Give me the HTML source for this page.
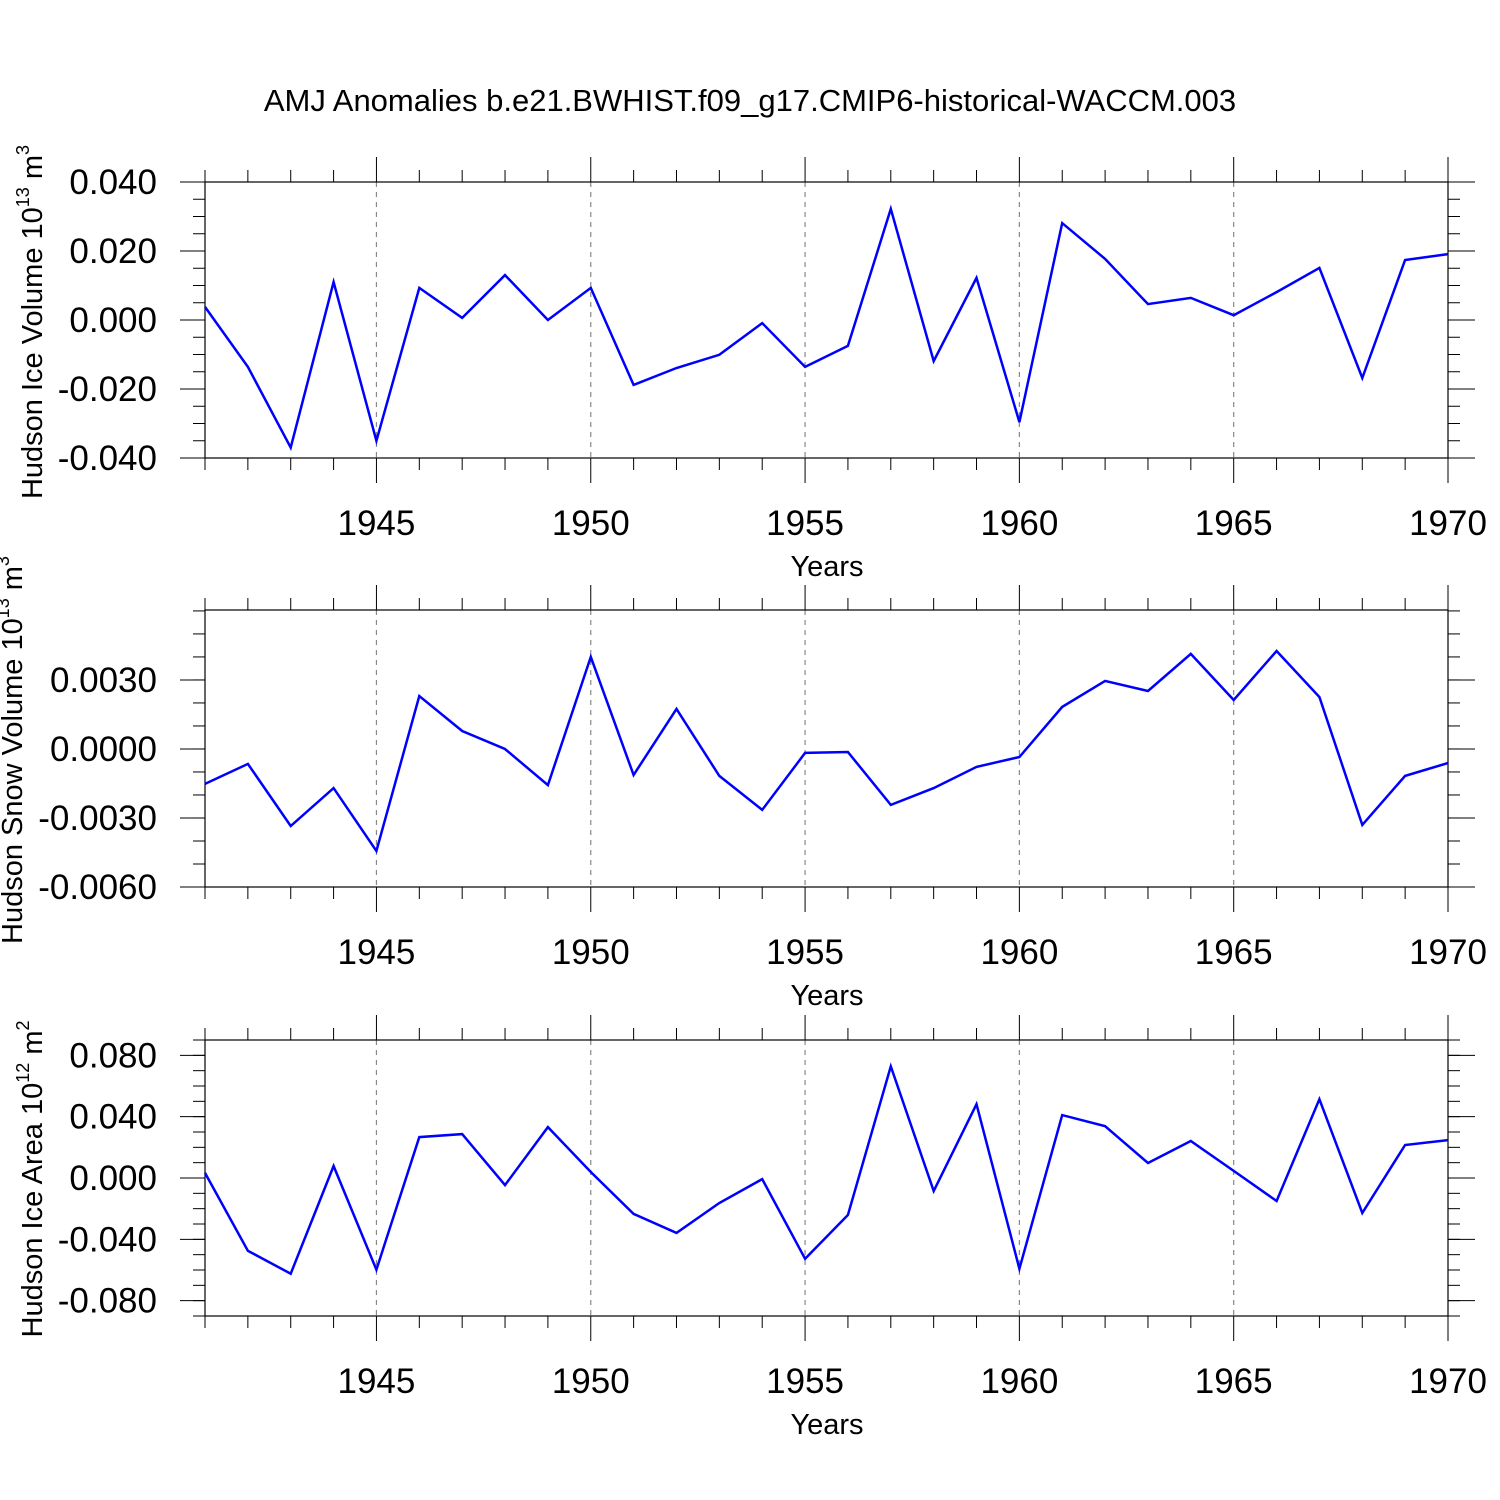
<!DOCTYPE html>
<html><head><meta charset="utf-8"><style>
html,body{margin:0;padding:0;background:#fff}
svg{display:block;font-family:"Liberation Sans",sans-serif}
</style></head><body>
<svg id="chart" width="1500" height="1500" viewBox="0 0 1500 1500">
<text x="750" y="111" font-size="31" text-anchor="middle">AMJ Anomalies b.e21.BWHIST.f09_g17.CMIP6-historical-WACCM.003</text>
</svg>
<script>
const years = [1941,1942,1943,1944,1945,1946,1947,1948,1949,1950,1951,1952,1953,1954,1955,1956,1957,1958,1959,1960,1961,1962,1963,1964,1965,1966,1967,1968,1969,1970];
const iceVolume = [0.0038,-0.0136,-0.037,0.011,-0.035,0.0093,0.0006,0.013,0.0,0.0093,-0.0188,-0.0139,-0.0101,-0.0009,-0.0136,-0.0075,0.0322,-0.0119,0.0122,-0.0296,0.0281,0.0177,0.0046,0.0064,0.0014,0.0081,0.0151,-0.0168,0.0174,0.0191];
const snowVolume = [-0.00152,-0.00065,-0.00335,-0.0017,-0.00443,0.0023,0.00078,0.0,-0.00157,0.004,-0.00113,0.00174,-0.00117,-0.00265,-0.00017,-0.00013,-0.00243,-0.0017,-0.00078,-0.00035,0.00183,0.00296,0.00252,0.00413,0.00213,0.00426,0.00226,-0.0033,-0.00117,-0.00061];
const iceArea = [0.0033,-0.0475,-0.0624,0.0078,-0.0598,0.0267,0.0286,-0.0046,0.0332,0.0039,-0.0234,-0.0358,-0.0163,-0.0007,-0.0527,-0.0241,0.0728,-0.0085,0.0481,-0.0592,0.041,0.0338,0.0098,0.0241,0.0046,-0.015,0.0514,-0.0228,0.0215,0.0247];
const xTickLabels = [1945,1950,1955,1960,1965,1970];
const iceVolTicks = [0.04,0.02,0,-0.02,-0.04];
const snowTicks = [0.003,0,-0.003,-0.006];
const areaTicks = [0.08,0.04,0,-0.04,-0.08];

const svg = document.getElementById('chart');
const NS = 'http://www.w3.org/2000/svg';
const X0 = 205, X1 = 1448, XMIN = 1941, XMAX = 1970;
function xs(v){ return X0 + (v - XMIN) / (XMAX - XMIN) * (X1 - X0); }
function mk(tag, attrs){ const e = document.createElementNS(NS, tag); for (const k in attrs) e.setAttribute(k, attrs[k]); return e; }

const panels = [
 {name:'ice-volume', top:182, bot:458, ymin:-0.04, ymax:0.04, data:iceVolume, ticks:iceVolTicks, minor:0.005, dec:3, label:'Hudson Ice Volume 10', sup:'13', unit:' m', usup:'3', tx:42, cy:322},
 {name:'snow-volume', top:610, bot:887, ymin:-0.006, ymax:0.00604, data:snowVolume, ticks:snowTicks, minor:0.001, dec:4, label:'Hudson Snow Volume 10', sup:'13', unit:' m', usup:'3', tx:22, cy:750},
 {name:'ice-area', top:1040, bot:1316, ymin:-0.09, ymax:0.09, data:iceArea, ticks:areaTicks, minor:0.01, dec:3, label:'Hudson Ice Area 10', sup:'12', unit:' m', usup:'2', tx:42, cy:1179}
];

panels.forEach(p => {
  const g = mk('g', {});
  
  
  svg.appendChild(g);
  const ys = v => p.bot - (v - p.ymin) / (p.ymax - p.ymin) * (p.bot - p.top);
  xTickLabels.forEach(yr => {
    if (yr === XMAX) return;
    const l = mk('line', {x1:xs(yr), x2:xs(yr), y1:p.top, y2:p.bot, stroke:'#888', 'stroke-width':1.2, 'stroke-dasharray':'5,5'});
    
    
    g.appendChild(l);
  });
  const box = mk('rect', {x:X0, y:p.top, width:X1-X0, height:p.bot-p.top, fill:'none', stroke:'#000', 'stroke-width':1.2});
  
  
  g.appendChild(box);
  years.forEach(yr => {
    const major = yr % 5 === 0;
    const len = major ? 25 : 12;
    const x = xs(yr);
    g.appendChild(mk('line', {x1:x, x2:x, y1:p.top - len, y2:p.top, stroke:'#000', 'stroke-width':1}));
    g.appendChild(mk('line', {x1:x, x2:x, y1:p.bot, y2:p.bot + len, stroke:'#000', 'stroke-width':1}));
  });
  xTickLabels.forEach(yr => {
    const t = mk('text', {x:xs(yr), y:p.bot + 77, 'font-size':35, 'text-anchor':'middle'});
    t.textContent = yr;
    
    
    g.appendChild(t);
  });
  const xt = mk('text', {x:827, y:p.bot + 118, 'font-size':29, 'text-anchor':'middle'});
  xt.textContent = 'Years';
  
  
  g.appendChild(xt);
  const nmin = Math.ceil(p.ymin / p.minor - 1e-6), nmax = Math.floor(p.ymax / p.minor + 1e-6);
  for (let i = nmin; i <= nmax; i++) {
    const v = i * p.minor, y = ys(v);
    g.appendChild(mk('line', {x1:X0 - 12, x2:X0, y1:y, y2:y, stroke:'#000', 'stroke-width':1}));
    g.appendChild(mk('line', {x1:X1, x2:X1 + 12, y1:y, y2:y, stroke:'#000', 'stroke-width':1}));
  }
  p.ticks.forEach(v => {
    const y = ys(v);
    g.appendChild(mk('line', {x1:X0 - 25, x2:X0, y1:y, y2:y, stroke:'#000', 'stroke-width':1}));
    g.appendChild(mk('line', {x1:X1, x2:X1 + 27, y1:y, y2:y, stroke:'#000', 'stroke-width':1}));
    const t = mk('text', {x:157, y:y + 12, 'font-size':35, 'text-anchor':'end'});
    t.textContent = v.toFixed(p.dec);
    
    
    g.appendChild(t);
  });
  const yt = mk('text', {x:0, y:0, 'font-size':29, 'text-anchor':'middle', transform:'translate(' + p.tx + ',' + p.cy + ') rotate(-90)'});
  
  
  yt.innerHTML = p.label + '<tspan dy="-13" font-size="18">' + p.sup + '</tspan><tspan dy="13">' + p.unit + '</tspan><tspan dy="-13" font-size="18">' + p.usup + '</tspan>';
  g.appendChild(yt);
  const pts = p.data.map((v, i) => xs(years[i]).toFixed(1) + ',' + ys(v).toFixed(1)).join(' ');
  const line = mk('polyline', {points:pts, fill:'none', stroke:'#0000ff', 'stroke-width':2.5, 'stroke-linejoin':'miter'});
  
  
  g.appendChild(line);
});
</script>
</body></html>
